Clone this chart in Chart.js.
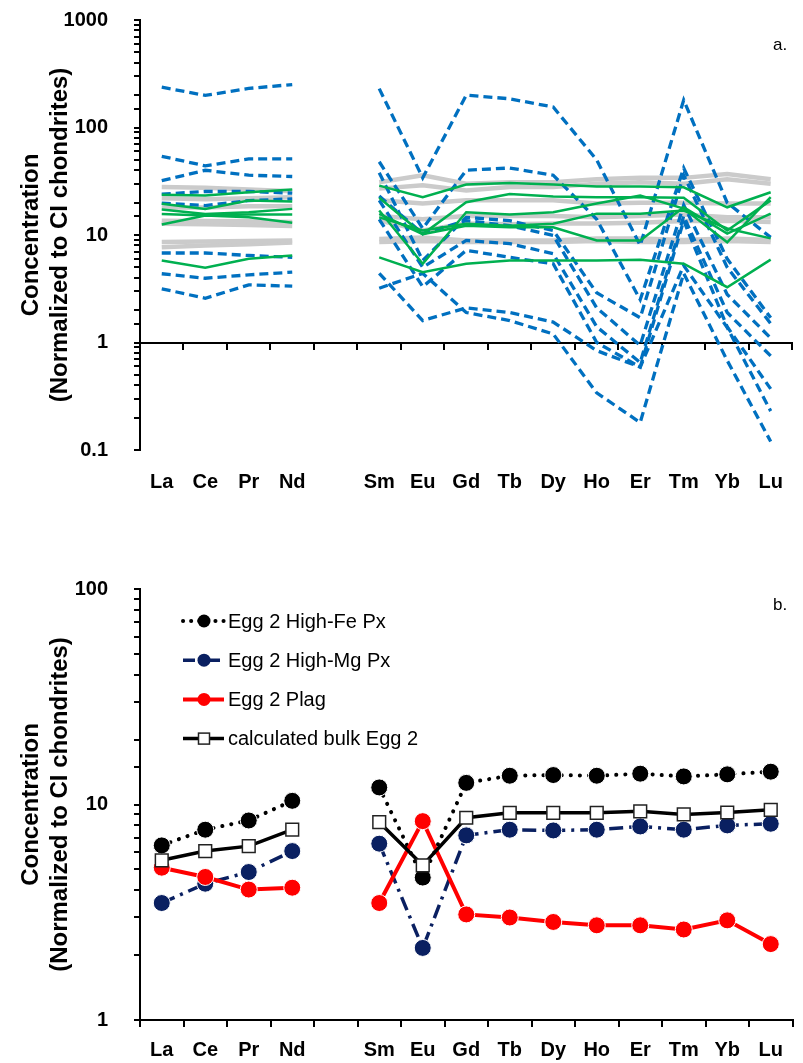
<!DOCTYPE html>
<html>
<head>
<meta charset="utf-8">
<script src="https://cdn.jsdelivr.net/npm/chart.js"></script>
<style>
  body { margin: 0; background: #fff; }
  #wrap { position: relative; width: 803px; height: 1063px; overflow: hidden; }
  canvas { position: absolute; left: 0; }
  #reeChart { top: -18px; }
  #eggChart { top: 551px; }
</style>
</head>
<body>
<div id="wrap">
  <canvas id="reeChart" width="803" height="523"></canvas>
  <canvas id="eggChart" width="803" height="512"></canvas>
</div>
<script>
// rare earth elements, with an empty slot between Nd and Sm
const elements = ['La', 'Ce', 'Pr', 'Nd', '', 'Sm', 'Eu', 'Gd', 'Tb', 'Dy', 'Ho', 'Er', 'Tm', 'Yb', 'Lu'];

// panel a: individual analyses (chondrite normalized)
const blueLines = [
  [237, 199, 231, 251, null, 230, 34, 200, 185, 155, 50, 8, 180, 20, 9.5],
  [54, 44, 51, 51, null, 48, 11.5, 40, 42, 36, 14, 2.5, 42, 6, 1.7],
  [32, 40, 36, 35, null, 38, 5.8, 14.6, 13.6, 11, 2.9, 1.7, 36, 5, 1.5],
  [24, 25.4, 25.4, 24.5, null, 23, 10.3, 13.6, 12.2, 9.9, 2.1, 0.94, 19, 2.8, 1.1],
  [19.8, 18.8, 20.9, 21.7, null, 21, 5, 8.9, 8.3, 6.7, 1.4, 0.65, 15, 1.9, 0.75],
  [6.8, 6.8, 6.45, 6.2, null, 14, 3.3, 7.2, 6.2, 5.4, 1.0, 0.59, 13.6, 1.4, 0.37],
  [4.36, 3.96, 4.26, 4.51, null, 4.4, 1.6, 2.1, 1.9, 1.55, 0.84, 0.59, 5.2, 1.38, 0.23],
  [3.16, 2.58, 3.44, 3.34, null, 3.2, 4.4, 1.9, 1.6, 1.2, 0.34, 0.18, 4.4, 0.68, 0.12]
];
const greenLines = [
  [23.7, 23.3, 25, 26.5, null, 28.8, 22.5, 29.5, 30.4, 29.5, 28.2, 28.2, 27.8, 18.1, 25],
  [19.5, 17.5, 20.9, 20.5, null, 22.2, 10.2, 20.2, 24.1, 22.8, 22.5, 22.5, 22.2, 11, 21],
  [17.3, 15.7, 16.3, 17.5, null, 16.9, 5.4, 16.3, 15.5, 16.3, 19.6, 23.3, 17.6, 8.56, 22.5],
  [15.7, 15.2, 15.5, 15.5, null, 15.7, 10.2, 12.2, 11.8, 11.8, 8.9, 8.9, 18.1, 10.3, 15.8],
  [12.5, 15.2, 14.6, 13.0, null, 14.6, 11, 12.7, 12.2, 12.7, 15.8, 15.8, 16.9, 11.5, 9.3],
  [5.79, 4.95, 6.0, 6.45, null, 6.2, 4.5, 5.4, 5.8, 5.8, 5.8, 5.9, 5.4, 3.27, 5.9]
];
const grayLines = [
  [28, 27.5, 26.5, 25.5, null, 31, 36, 30, 31, 31, 33, 34, 34, 37, 33],
  [22, 21.5, 22, 22.5, null, 27, 29, 26, 28, 28, 30, 31, 30, 33, 30],
  [18, 18, 18.5, 18.5, null, 21, 19.6, 21, 21, 21, 19.6, 20, 20, 19.6, 19.6],
  [13.6, 13.5, 13.4, 13.2, null, 15, 14, 15, 15, 15, 14.6, 15, 15.5, 14.6, 14.6],
  [12.7, 12.6, 12.4, 12.1, null, 13.6, 11, 12.8, 12.6, 12.8, 12.8, 13, 13.5, 13.6, 13.2],
  [8.6, 8.7, 8.8, 8.9, null, 9.2, 9.5, 8.9, 8.9, 8.9, 9.3, 9.3, 9, 9.3, 9],
  [7.7, 8, 8.2, 8.5, null, 8.6, 8.8, 8.6, 8.6, 8.6, 8.8, 8.6, 8.6, 8.8, 8.6]
];

// panel b: Egg 2 phases
const highFePx = [6.46, 7.64, 8.43, 10.4, null, 12.0, 4.58, 12.6, 13.6, 13.7, 13.6, 13.9, 13.5, 13.8, 14.2];
const highMgPx = [3.49, 4.29, 4.86, 6.08, null, 6.58, 2.16, 7.19, 7.64, 7.58, 7.64, 7.91, 7.64, 8.0, 8.14];
const plag = [5.09, 4.61, 4.03, 4.11, null, 3.49, 8.37, 3.09, 2.99, 2.85, 2.75, 2.75, 2.63, 2.9, 2.25];
const bulkEgg2 = [5.51, 6.08, 6.41, 7.64, null, 8.28, 5.22, 8.68, 9.15, 9.15, 9.15, 9.3, 8.99, 9.18, 9.45];

const yTitle = ['Concentration', '(Normalized to CI chondrites)'];

Chart.defaults.font.family = '"Liberation Sans", Arial, sans-serif';
Chart.defaults.color = '#000';

const boldFont = { size: 20, weight: 'bold' };

function isDecade(v) {
  const l = Math.log10(v);
  return Math.abs(l - Math.round(l)) < 1e-6;
}

function logAxis(min, max) {
  return {
    type: 'logarithmic',
    min: min,
    max: max,
    afterFit: s => { s.width = 140; },
    border: { color: '#000', width: 2 },
    grid: { drawOnChartArea: false, color: '#000', lineWidth: 2, tickLength: 6 },
    ticks: {
      autoSkip: false,
      padding: 26,
      font: boldFont,
      callback: v => isDecade(v) ? String(v) : ''
    },
    title: {
      display: true,
      text: yTitle,
      font: { size: 24, weight: 'bold' },
      padding: { top: 17, bottom: 0 }
    }
  };
}

// small corner tag "a." / "b."
const panelTag = {
  id: 'panelTag',
  afterDraw(chart, args, opts) {
    const ctx = chart.ctx;
    ctx.save();
    ctx.font = '17px "Liberation Sans", Arial, sans-serif';
    ctx.fillStyle = '#000';
    ctx.textBaseline = 'middle';
    ctx.fillText(opts.text, opts.x, opts.y);
    ctx.restore();
  }
};

// legend drawn inside the plot: line sample + marker + label
const innerLegend = {
  id: 'innerLegend',
  afterDraw(chart, args, opts) {
    const ctx = chart.ctx;
    const sets = chart.data.datasets;
    ctx.save();
    sets.forEach((ds, i) => {
      const y = opts.top + i * opts.step;
      ctx.beginPath();
      ctx.setLineDash(ds.legendDash || ds.borderDash || []);
      ctx.lineCap = ds.borderCapStyle || 'butt';
      ctx.lineWidth = ds.borderWidth;
      ctx.strokeStyle = ds.borderColor;
      ctx.moveTo(opts.left, y);
      ctx.lineTo(opts.left + 41, y);
      ctx.stroke();
      ctx.setLineDash([]);
      const cx = opts.left + 21;
      if (ds.pointStyle === 'rect') {
        ctx.fillStyle = ds.pointBackgroundColor;
        ctx.strokeStyle = ds.pointBorderColor;
        ctx.lineWidth = 1.5;
        ctx.fillRect(cx - 5.5, y - 5.5, 11, 11);
        ctx.strokeRect(cx - 5.5, y - 5.5, 11, 11);
      } else {
        ctx.beginPath();
        ctx.fillStyle = ds.pointBackgroundColor;
        ctx.arc(cx, y, 6.5, 0, Math.PI * 2);
        ctx.fill();
      }
      ctx.fillStyle = '#000';
      ctx.font = '20px "Liberation Sans", Arial, sans-serif';
      ctx.textBaseline = 'middle';
      ctx.fillText(ds.label, opts.left + 45, y + 1);
    });
    ctx.restore();
  }
};

// panel a
const reeSets = [];
greenLines.forEach((row, i) => reeSets.push({
  label: 'green ' + (i + 1), data: row, xAxisID: 'x', order: 1,
  borderColor: '#00b050', borderWidth: 2.5, pointRadius: 0
}));
blueLines.forEach((row, i) => reeSets.push({
  label: 'blue ' + (i + 1), data: row, xAxisID: 'x', order: 2,
  borderColor: '#0070c0', borderWidth: 3.3, borderDash: [9, 5], pointRadius: 0
}));
grayLines.forEach((row, i) => reeSets.push({
  label: 'gray ' + (i + 1), data: row, xAxisID: 'x', order: 3,
  borderColor: '#cbcbcb', borderWidth: 4.5, pointRadius: 0
}));

new Chart(document.getElementById('reeChart'), {
  type: 'line',
  data: { labels: elements, datasets: reeSets },
  options: {
    responsive: false,
    animation: false,
    spanGaps: false,
    layout: { padding: { top: 2, right: 3, left: 0, bottom: 0 } },
    plugins: {
      legend: { display: false },
      tooltip: { enabled: false },
      panelTag: { text: 'a.', x: 773, y: 63 }
    },
    scales: {
      x: {
        type: 'category',
        position: { y: 1 },
        offset: true,
        border: { color: '#000', width: 2 },
        grid: { drawOnChartArea: false, offset: true, color: '#000', lineWidth: 2, tickLength: 6 },
        ticks: { display: false }
      },
      xLabels: {
        axis: 'x',
        type: 'category',
        position: 'bottom',
        labels: elements,
        offset: true,
        afterFit: s => { s.height = 55; },
        border: { display: false },
        grid: { display: false, drawTicks: false },
        ticks: { font: boldFont, padding: 20, autoSkip: false, maxRotation: 0 }
      },
      y: logAxis(0.1, 1000)
    }
  },
  plugins: [panelTag]
});

// panel b
new Chart(document.getElementById('eggChart'), {
  type: 'line',
  data: {
    labels: elements,
    datasets: [
      {
        label: 'Egg 2 High-Fe Px', data: highFePx, order: 4,
        borderColor: '#000', borderWidth: 4, borderDash: [0.1, 9], borderCapStyle: 'round',
        legendDash: [0.1, 8],
        pointStyle: 'circle', pointRadius: 8.5, pointBackgroundColor: '#000',
        pointBorderColor: '#fff', pointBorderWidth: 1
      },
      {
        label: 'Egg 2 High-Mg Px', data: highMgPx, order: 3,
        borderColor: '#0a2061', borderWidth: 3.5, borderDash: [14, 6, 3, 6],
        legendDash: [12, 5, 3, 5],
        pointStyle: 'circle', pointRadius: 8.5, pointBackgroundColor: '#0a2061',
        pointBorderColor: '#fff', pointBorderWidth: 1
      },
      {
        label: 'Egg 2 Plag', data: plag, order: 2,
        borderColor: '#ff0000', borderWidth: 4,
        pointStyle: 'circle', pointRadius: 8.5, pointBackgroundColor: '#ff0000',
        pointBorderColor: '#fff', pointBorderWidth: 1
      },
      {
        label: 'calculated bulk Egg 2', data: bulkEgg2, order: 1,
        borderColor: '#000', borderWidth: 3.5,
        pointStyle: 'rect', pointRadius: 9, pointBackgroundColor: '#fff',
        pointBorderColor: '#222', pointBorderWidth: 1.5
      }
    ]
  },
  options: {
    responsive: false,
    animation: false,
    spanGaps: false,
    layout: { padding: { top: 19, right: 3, left: 0, bottom: 0 } },
    plugins: {
      legend: { display: false },
      tooltip: { enabled: false },
      panelTag: { text: 'b.', x: 773, y: 54 },
      innerLegend: { left: 183, top: 70, step: 39.2 }
    },
    scales: {
      x: {
        type: 'category',
        position: 'bottom',
        offset: true,
        afterFit: s => { s.height = 43; },
        border: { color: '#000', width: 2 },
        grid: { drawOnChartArea: false, offset: true, color: '#000', lineWidth: 2, tickLength: 7 },
        ticks: { font: boldFont, padding: 11, autoSkip: false, maxRotation: 0 }
      },
      y: logAxis(1, 100)
    }
  },
  plugins: [panelTag, innerLegend]
});
</script>
</body>
</html>
